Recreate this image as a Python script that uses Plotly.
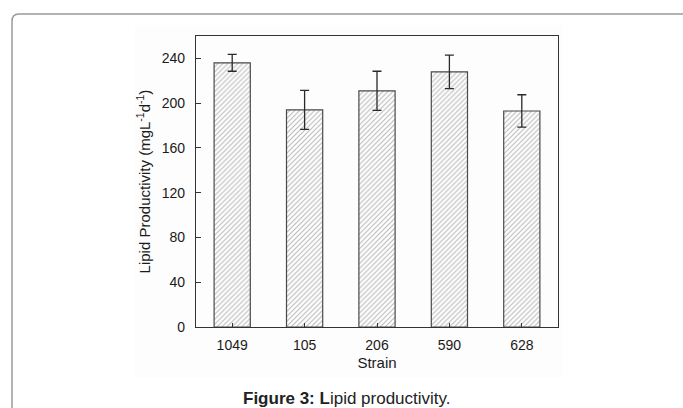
import plotly.graph_objects as go

strains = ["1049", "105", "206", "590", "628"]
productivity = [236, 194, 211, 228, 193]
errors = [7.5, 17.5, 17.5, 15, 14.5]
y_ticks = [0, 40, 80, 120, 160, 200, 240]

W, H = 683, 408
L, R, T, B = 196, 558, 36, 327

def px(x):
    return (x - L) / (R - L)

def py(y):
    return (B - y) / (B - T)

FONT = "Liberation Sans, Arial, sans-serif"

fig = go.Figure()
fig.add_trace(go.Bar(
    x=strains,
    y=productivity,
    width=0.5,
    marker=dict(
        color="white",
        line=dict(color="#4a4a4a", width=1.2),
        pattern=dict(shape="/", fgcolor="#707070", bgcolor="white", size=3.5, solidity=0.3),
    ),
    error_y=dict(type="data", array=errors, visible=True, color="#2a2a2a", thickness=1.3, width=4.5),
))

# outer rounded frame
r = 7
frame = (f"M {px(12)},{py(430)} L {px(12)},{py(14 + r)} "
         f"Q {px(12)},{py(14)} {px(12 + r)},{py(14)} L {px(700)},{py(14)}")
fig.add_shape(type="path", path=frame, xref="paper", yref="paper",
              line=dict(color="#9a9a9a", width=1.5), layer="below")
# faint chart-image background
fig.add_shape(type="rect", xref="paper", yref="paper",
              x0=px(135), x1=px(563), y0=py(378), y1=py(25),
              fillcolor="#fdfdfd", line=dict(width=0), layer="below")

fig.add_annotation(
    xref="paper", yref="paper", x=px(347), y=py(398),
    text="<b>Figure 3: L</b>ipid productivity.", showarrow=False,
    xanchor="center", yanchor="middle",
    font=dict(family=FONT, size=17, color="#222222"),
)

fig.update_layout(
    width=W, height=H,
    margin=dict(l=L, r=W - R, t=T, b=H - B, pad=0),
    paper_bgcolor="white",
    plot_bgcolor="rgba(0,0,0,0)",
    showlegend=False,
    bargap=0.5,
    font=dict(family=FONT, size=14, color="#1a1a1a"),
    xaxis=dict(
        type="category",
        range=[-0.5, 4.5],
        showline=True, linecolor="#333333", linewidth=1.2, mirror=True,
        ticks="inside", ticklen=4, tickcolor="#333333",
        showgrid=False, zeroline=False,
        ticklabelstandoff=5,
        tickfont=dict(size=14),
        title=dict(text="Strain", font=dict(size=15), standoff=5),
    ),
    yaxis=dict(
        range=[0, 260],
        tickvals=y_ticks,
        showline=True, linecolor="#333333", linewidth=1.2, mirror=True,
        ticks="inside", ticklen=5, tickcolor="#333333",
        showgrid=False, zeroline=False,
        ticklabelstandoff=7,
        tickfont=dict(size=14),
        title=dict(text="Lipid Productivity (mgL<sup>-1</sup>d<sup>-1</sup>)", font=dict(size=15), standoff=7),
    ),
)

fig.write_html("out.html")
